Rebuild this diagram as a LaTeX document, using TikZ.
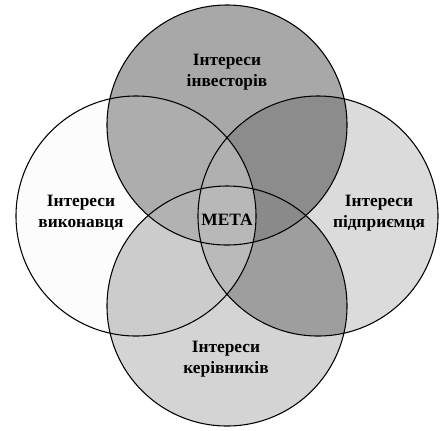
\documentclass[tikz,border=0pt]{standalone}
\usepackage{fontspec}
\setmainfont{Liberation Serif}
\definecolor{cT}{gray}{0.66}
\definecolor{cL}{gray}{0.99}
\definecolor{cR}{gray}{0.86}
\definecolor{cB}{gray}{0.83}
\definecolor{cTL}{gray}{0.68}
\definecolor{cTR}{gray}{0.55}
\definecolor{cTB}{gray}{0.70}
\definecolor{cBL}{gray}{0.80}
\definecolor{cBR}{gray}{0.62}
\definecolor{cLR}{gray}{0.72}
\definecolor{cTLR}{gray}{0.69}
\definecolor{cTBL}{gray}{0.70}
\definecolor{cTBR}{gray}{0.54}
\definecolor{cBLR}{gray}{0.73}
\definecolor{cTBLR}{gray}{0.72}
\begin{document}
\begin{tikzpicture}[x=0.75pt,y=-0.75pt,
  lbl/.style={font=\bfseries\fontsize{13}{16}\selectfont, align=center, inner sep=0pt},
  ring/.style={draw=black, line width=0.8pt}]
\useasboundingbox (0,0) rectangle (443,430);
\fill[white] (0,0) rectangle (443,430);
% single circles
\fill[cT] (227,125) circle [radius=120];
\fill[cL] (136,216) circle [radius=120];
\fill[cR] (318,216) circle [radius=120];
\fill[cB] (227,306) circle [radius=120];
% pairs
\begin{scope}\clip (227,125) circle [radius=120]; \clip (136,216) circle [radius=120]; \fill[cTL] (0,0) rectangle (443,430);\end{scope}
\begin{scope}\clip (227,125) circle [radius=120]; \clip (318,216) circle [radius=120]; \fill[cTR] (0,0) rectangle (443,430);\end{scope}
\begin{scope}\clip (227,125) circle [radius=120]; \clip (227,306) circle [radius=120]; \fill[cTB] (0,0) rectangle (443,430);\end{scope}
\begin{scope}\clip (227,306) circle [radius=120]; \clip (136,216) circle [radius=120]; \fill[cBL] (0,0) rectangle (443,430);\end{scope}
\begin{scope}\clip (227,306) circle [radius=120]; \clip (318,216) circle [radius=120]; \fill[cBR] (0,0) rectangle (443,430);\end{scope}
\begin{scope}\clip (136,216) circle [radius=120]; \clip (318,216) circle [radius=120]; \fill[cLR] (0,0) rectangle (443,430);\end{scope}
% triples
\begin{scope}\clip (227,125) circle [radius=120]; \clip (136,216) circle [radius=120]; \clip (318,216) circle [radius=120]; \fill[cTLR] (0,0) rectangle (443,430);\end{scope}
\begin{scope}\clip (227,125) circle [radius=120]; \clip (227,306) circle [radius=120]; \clip (136,216) circle [radius=120]; \fill[cTBL] (0,0) rectangle (443,430);\end{scope}
\begin{scope}\clip (227,125) circle [radius=120]; \clip (227,306) circle [radius=120]; \clip (318,216) circle [radius=120]; \fill[cTBR] (0,0) rectangle (443,430);\end{scope}
\begin{scope}\clip (227,306) circle [radius=120]; \clip (136,216) circle [radius=120]; \clip (318,216) circle [radius=120]; \fill[cBLR] (0,0) rectangle (443,430);\end{scope}
% all four
\begin{scope}\clip (227,125) circle [radius=120]; \clip (227,306) circle [radius=120]; \clip (136,216) circle [radius=120]; \clip (318,216) circle [radius=120]; \fill[cTBLR] (0,0) rectangle (443,430);\end{scope}
% outlines
\draw[ring] (227,125) circle [radius=120];
\draw[ring] (136,216) circle [radius=120];
\draw[ring] (318,216) circle [radius=120];
\draw[ring] (227,306) circle [radius=120];
% labels
\node[lbl] (inv) at (227,72) {Інтереси\\інвесторів};
\node[lbl] (vyk) at (81,213) {Інтереси\\виконавця};
\node[lbl] (pid) at (379,213) {Інтереси\\підприємця};
\node[lbl] (ker) at (226,359) {Інтереси\\керівників};
\node[lbl] (meta) at (227,220) {МЕТА};
\end{tikzpicture}
\end{document}
